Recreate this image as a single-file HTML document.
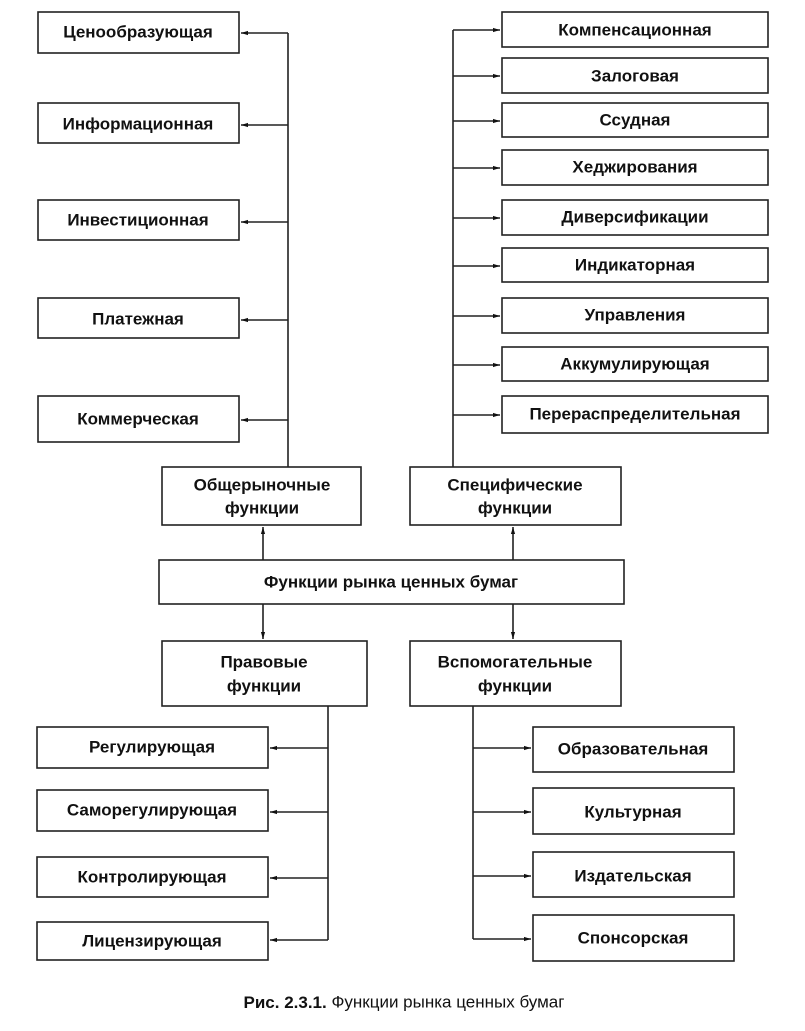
<!DOCTYPE html>
<html><head><meta charset="utf-8"><style>
html,body{margin:0;padding:0;background:#fff}
svg{display:block}
text{font-family:"Liberation Sans",Arial,sans-serif;font-weight:bold;font-size:17px;fill:#111;text-anchor:middle;dominant-baseline:central}
rect{fill:#fff;stroke:#222;stroke-width:1.6}
line{stroke:#222;stroke-width:1.6}
</style></head><body>
<svg width="805" height="1031" viewBox="0 0 805 1031">
<defs><marker id="a" viewBox="0 0 10 10" refX="10" refY="5" markerWidth="9" markerHeight="7" markerUnits="userSpaceOnUse" orient="auto"><path d="M0,2 L10,5 L0,8 Z" fill="#111"/></marker></defs>

<!-- left top -->
<line x1="288" y1="33" x2="288" y2="467"/>
<g>
<rect x="38" y="12" width="201" height="41"/><text x="138" y="32">Ценообразующая</text>
<line x1="288" y1="33" x2="241" y2="33" marker-end="url(#a)"/>
<rect x="38" y="103" width="201" height="40"/><text x="138" y="124">Информационная</text>
<line x1="288" y1="125" x2="241" y2="125" marker-end="url(#a)"/>
<rect x="38" y="200" width="201" height="40"/><text x="138" y="220">Инвестиционная</text>
<line x1="288" y1="222" x2="241" y2="222" marker-end="url(#a)"/>
<rect x="38" y="298" width="201" height="40"/><text x="138" y="319">Платежная</text>
<line x1="288" y1="320" x2="241" y2="320" marker-end="url(#a)"/>
<rect x="38" y="396" width="201" height="46"/><text x="138" y="419">Коммерческая</text>
<line x1="288" y1="420" x2="241" y2="420" marker-end="url(#a)"/>
</g>

<!-- right top -->
<line x1="453" y1="30" x2="453" y2="467"/>
<g>
<rect x="502" y="12" width="266" height="35"/><text x="635" y="30">Компенсационная</text>
<line x1="453" y1="30" x2="500" y2="30" marker-end="url(#a)"/>
<rect x="502" y="58" width="266" height="35"/><text x="635" y="76">Залоговая</text>
<line x1="453" y1="76" x2="500" y2="76" marker-end="url(#a)"/>
<rect x="502" y="103" width="266" height="34"/><text x="635" y="120">Ссудная</text>
<line x1="453" y1="121" x2="500" y2="121" marker-end="url(#a)"/>
<rect x="502" y="150" width="266" height="35"/><text x="635" y="167">Хеджирования</text>
<line x1="453" y1="168" x2="500" y2="168" marker-end="url(#a)"/>
<rect x="502" y="200" width="266" height="35"/><text x="635" y="217">Диверсификации</text>
<line x1="453" y1="218" x2="500" y2="218" marker-end="url(#a)"/>
<rect x="502" y="248" width="266" height="34"/><text x="635" y="265">Индикаторная</text>
<line x1="453" y1="266" x2="500" y2="266" marker-end="url(#a)"/>
<rect x="502" y="298" width="266" height="35"/><text x="635" y="315">Управления</text>
<line x1="453" y1="316" x2="500" y2="316" marker-end="url(#a)"/>
<rect x="502" y="347" width="266" height="34"/><text x="635" y="364">Аккумулирующая</text>
<line x1="453" y1="365" x2="500" y2="365" marker-end="url(#a)"/>
<rect x="502" y="396" width="266" height="37"/><text x="635" y="414">Перераспределительная</text>
<line x1="453" y1="415" x2="500" y2="415" marker-end="url(#a)"/>
</g>

<!-- middle -->
<rect x="162" y="467" width="199" height="58"/><text x="262" y="485">Общерыночные</text><text x="262" y="508">функции</text>
<rect x="410" y="467" width="211" height="58"/><text x="515" y="485">Специфические</text><text x="515" y="508">функции</text>
<rect x="159" y="560" width="465" height="44"/><text x="391" y="582">Функции рынка ценных бумаг</text>
<line x1="263" y1="560" x2="263" y2="527" marker-end="url(#a)"/>
<line x1="513" y1="560" x2="513" y2="527" marker-end="url(#a)"/>
<line x1="263" y1="604" x2="263" y2="639" marker-end="url(#a)"/>
<line x1="513" y1="604" x2="513" y2="639" marker-end="url(#a)"/>
<rect x="162" y="641" width="205" height="65"/><text x="264" y="662">Правовые</text><text x="264" y="686">функции</text>
<rect x="410" y="641" width="211" height="65"/><text x="515" y="662">Вспомогательные</text><text x="515" y="686">функции</text>

<!-- bottom left -->
<line x1="328" y1="706" x2="328" y2="940"/>
<rect x="37" y="727" width="231" height="41"/><text x="152" y="747">Регулирующая</text>
<line x1="328" y1="748" x2="270" y2="748" marker-end="url(#a)"/>
<rect x="37" y="790" width="231" height="41"/><text x="152" y="810">Саморегулирующая</text>
<line x1="328" y1="812" x2="270" y2="812" marker-end="url(#a)"/>
<rect x="37" y="857" width="231" height="40"/><text x="152" y="877">Контролирующая</text>
<line x1="328" y1="878" x2="270" y2="878" marker-end="url(#a)"/>
<rect x="37" y="922" width="231" height="38"/><text x="152" y="941">Лицензирующая</text>
<line x1="328" y1="940" x2="270" y2="940" marker-end="url(#a)"/>

<!-- bottom right -->
<line x1="473" y1="706" x2="473" y2="939"/>
<rect x="533" y="727" width="201" height="45"/><text x="633" y="749">Образовательная</text>
<line x1="473" y1="748" x2="531" y2="748" marker-end="url(#a)"/>
<rect x="533" y="788" width="201" height="46"/><text x="633" y="812">Культурная</text>
<line x1="473" y1="812" x2="531" y2="812" marker-end="url(#a)"/>
<rect x="533" y="852" width="201" height="45"/><text x="633" y="876">Издательская</text>
<line x1="473" y1="876" x2="531" y2="876" marker-end="url(#a)"/>
<rect x="533" y="915" width="201" height="46"/><text x="633" y="938">Спонсорская</text>
<line x1="473" y1="939" x2="531" y2="939" marker-end="url(#a)"/>

<text x="404" y="1002" style="font-weight:normal;font-size:17px"><tspan font-weight="bold">Рис. 2.3.1.</tspan> Функции рынка ценных бумаг</text>
</svg>
</body></html>
